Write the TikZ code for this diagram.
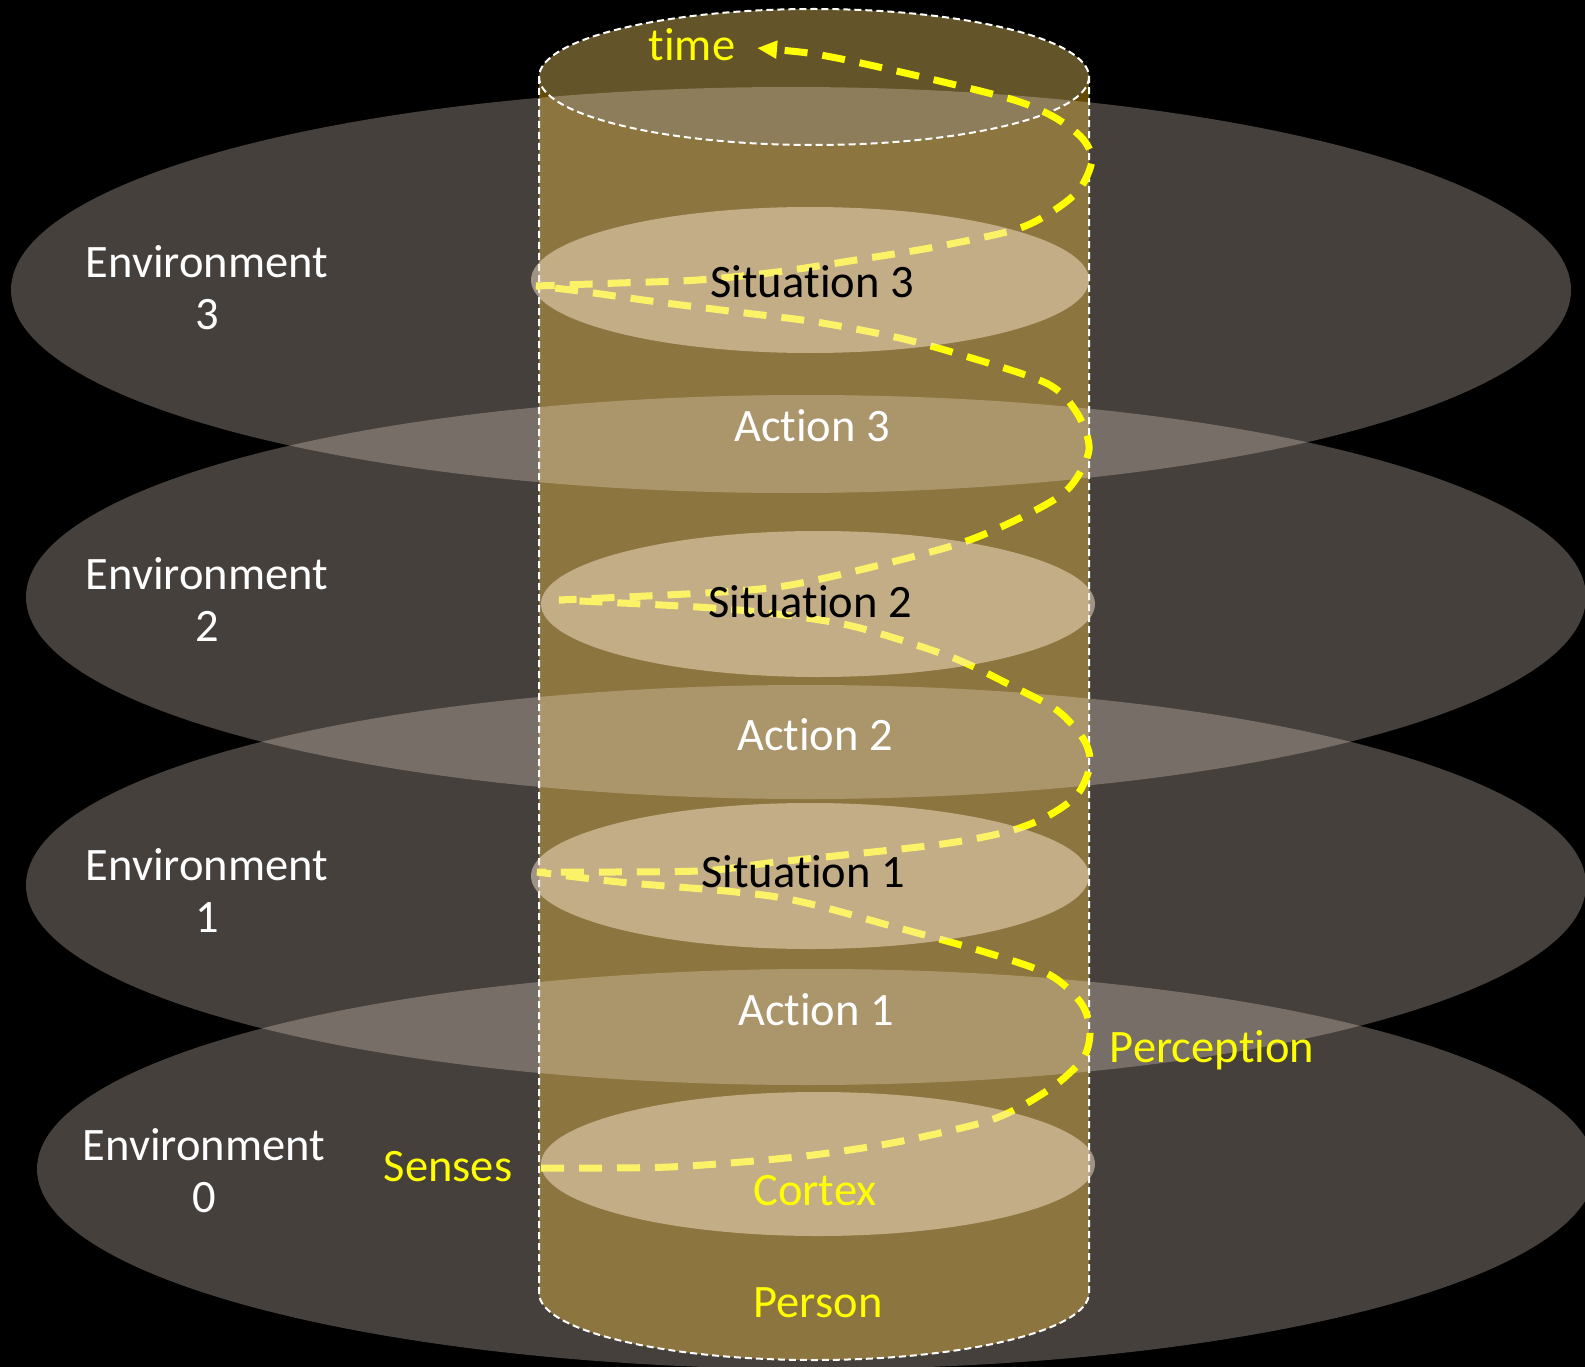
\documentclass[tikz,border=0pt]{standalone}
\usepackage{fontspec}
\setmainfont{Carlito}[Ligatures={NoCommon}]
\usetikzlibrary{arrows.meta}
\definecolor{bodygold}{HTML}{644A04}
\definecolor{lidgold}{HTML}{635429}
\definecolor{envlight}{HTML}{FAE8DA}
\definecolor{sitlight}{HTML}{FAE6D0}
\definecolor{pathyellow}{HTML}{FFFF00}
\newcommand{\nolig}{\kern0pt }
\begin{document}
\begin{tikzpicture}[x=1pt,y=-1pt,
  lbl/.style={inner sep=0pt,anchor=base,font=\fontsize{46.5}{52}\selectfont},
  whitelbl/.style={lbl,text=white},
  blacklbl/.style={lbl,text=black},
  yellowlbl/.style={lbl,text=pathyellow},
  envfill/.style={fill=envlight,fill opacity=0.28},
  sitfill/.style={fill=sitlight,fill opacity=0.5},
  outline/.style={draw=white,line width=2pt,dash pattern=on 7pt off 4pt},
  helix/.style={draw=pathyellow,line width=7pt,dash pattern=on 23pt off 15pt}]
\useasboundingbox (0,0) rectangle (1585,1367);
\fill[black] (0,0) rectangle (1585,1367);
% cylinder body and lid
\fill[bodygold] (539,77) -- (539,1293) arc[start angle=180,end angle=0,x radius=275,y radius=67] -- (1089,77) -- cycle;
\fill[lidgold] (814,77) ellipse[x radius=275,y radius=68];
% environments
\fill[envfill] (791,290) ellipse[x radius=780,y radius=203];
\fill[envfill] (806,597) ellipse[x radius=780,y radius=202];
\fill[envfill] (806,885) ellipse[x radius=780,y radius=200];
\fill[envfill] (816,1169) ellipse[x radius=779,y radius=200];
% cylinder outline
\draw[outline] (814,77) ellipse[x radius=275,y radius=68];
\draw[outline] (539,77) -- (539,1293) arc[start angle=180,end angle=0,x radius=275,y radius=67] -- (1089,77);
% labels under the path
\node[whitelbl] (env3) at (207,277) {\begin{tabular}[t]{@{}c@{}}Environment\\3\end{tabular}};
\node[whitelbl] (env2) at (207,589) {\begin{tabular}[t]{@{}c@{}}Environment\\2\end{tabular}};
\node[whitelbl] (env1) at (207,880) {\begin{tabular}[t]{@{}c@{}}Environment\\1\end{tabular}};
\node[whitelbl] (env0) at (204,1160) {\begin{tabular}[t]{@{}c@{}}Environment\\0\end{tabular}};
\node[whitelbl] (act3) at (812,441) {Ac\nolig tion 3};
\node[whitelbl] (act2) at (815,750) {Ac\nolig tion 2};
\node[whitelbl] (act1) at (816,1025) {Ac\nolig tion 1};
\node[yellowlbl] (time) at (692,61) {time};
\node[yellowlbl] (senses) at (448,1181) {Senses};
\node[yellowlbl] (perception) at (1212,1062) {Percep\nolig tion};
\node[yellowlbl] (person) at (818,1317) {Person};
% helix path
\coordinate (sensesIn) at (541,1168);
\coordinate (turnA) at (537,872);
\coordinate (turnB) at (559,600);
\coordinate (turnC) at (536,286);
\coordinate (timeTip) at (757,48);
\draw[helix,-{Triangle[length=20pt,width=17pt]}]
  plot[smooth,tension=0.5] coordinates {(sensesIn) (669,1167) (796,1157) (892,1143) (981,1123) (1020,1107) (1058,1083) (1084,1057) (1090,1030) (1081,1003) (1050,975) (988,953) (895,927) (777,897) (619,882) (turnA)}
  -- plot[smooth,tension=0.5] coordinates {(turnA) (698,871) (777,862) (935,845) (1006,832) (1046,817) (1077,795) (1090,765) (1084,740) (1058,711) (1014,687) (951,657) (856,627) (777,614) (698,607) (turnB)}
  -- plot[smooth,tension=0.5] coordinates {(turnB) (737,591) (816,580) (955,545) (1030,513) (1069,488) (1089,450) (1077,413) (1046,383) (955,353) (895,337) (816,322) (737,312) (658,302) (579,291) (turnC)}
  -- plot[smooth,tension=0.5] coordinates {(turnC) (619,283) (698,280) (777,272) (856,260) (935,247) (1014,230) (1050,213) (1079,190) (1092,160) (1082,138) (1054,117) (1014,100) (935,80) (856,62) (808,53) (timeTip)};
% situation ellipses
\fill[sitfill] (810,280) ellipse[x radius=279,y radius=73];
\fill[sitfill] (818,604) ellipse[x radius=277,y radius=73];
\fill[sitfill] (810,876) ellipse[x radius=279,y radius=73];
\fill[sitfill] (818,1164) ellipse[x radius=277,y radius=72];
\node[blacklbl] (sit3) at (812,297) {Situa\nolig tion 3};
\node[blacklbl] (sit2) at (810,617) {Situa\nolig tion 2};
\node[blacklbl] (sit1) at (803,887) {Situa\nolig tion 1};
\node[yellowlbl] (cortex) at (815,1205) {Cortex};
\end{tikzpicture}
\end{document}
